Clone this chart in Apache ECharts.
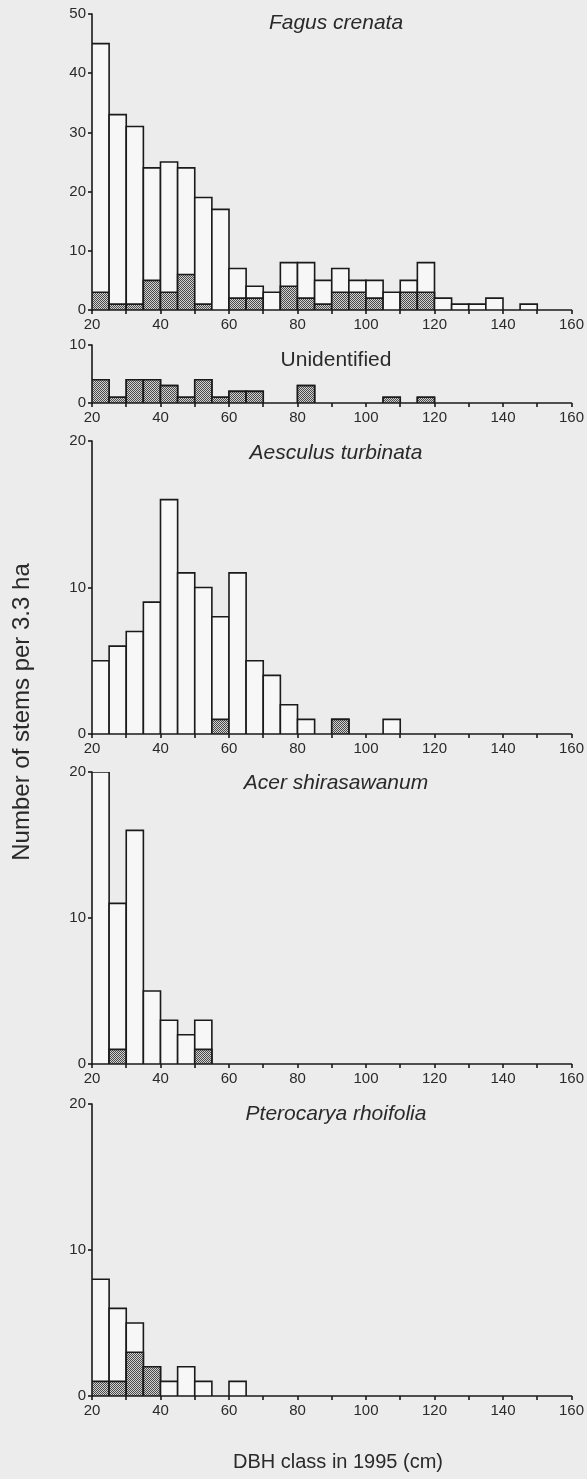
<!DOCTYPE html>
<html><head><meta charset="utf-8">
<script src="https://cdn.jsdelivr.net/npm/echarts@6/dist/echarts.min.js"></script>
<style>html,body{margin:0;padding:0;background:#ececec}#c{width:587px;height:1479px}</style>
</head><body><div id="c"></div>
<script>
// DBH class lower bounds (cm), 5-cm classes
const binStarts = [20,25,30,35,40,45,50,55,60,65,70,75,80,85,90,95,100,105,110,115,120,125,130,135,140,145,150,155];
const binWidth = 5;
const xTicks = [20,40,60,80,100,120,140,160];

// Fagus crenata
const fagusTotal = [45,33,31,24,25,24,19,17,7,4,3,8,8,5,7,5,5,3,5,8,2,1,1,2,0,1,0,0];
const fagusDead  = [3,1,1,5,3,6,1,0,2,2,0,4,2,1,3,3,2,0,3,3,0,0,0,0,0,0,0,0];
// Unidentified (all hatched)
const unidTotal  = [4,1,4,4,3,1,4,1,2,2,0,0,3,0,0,0,0,1,0,1,0,0,0,0,0,0,0,0];
const unidDead   = [4,1,4,4,3,1,4,1,2,2,0,0,3,0,0,0,0,1,0,1,0,0,0,0,0,0,0,0];
// Aesculus turbinata
const aescTotal  = [5,6,7,9,16,11,10,8,11,5,4,2,1,0,1,0,0,1,0,0,0,0,0,0,0,0,0,0];
const aescDead   = [0,0,0,0,0,0,0,1,0,0,0,0,0,0,1,0,0,0,0,0,0,0,0,0,0,0,0,0];
// Acer shirasawanum
const acerTotal  = [20,11,16,5,3,2,3,0,0,0,0,0,0,0,0,0,0,0,0,0,0,0,0,0,0,0,0,0];
const acerDead   = [0,1,0,0,0,0,1,0,0,0,0,0,0,0,0,0,0,0,0,0,0,0,0,0,0,0,0,0];
// Pterocarya rhoifolia
const pteroTotal = [8,6,5,2,1,2,1,0,1,0,0,0,0,0,0,0,0,0,0,0,0,0,0,0,0,0,0,0];
const pteroDead  = [1,1,3,2,0,0,0,0,0,0,0,0,0,0,0,0,0,0,0,0,0,0,0,0,0,0,0,0];

const panels = [
  {name:'Fagus crenata', italic:true, total:fagusTotal, dead:fagusDead, max:50, top:14, height:296, titleY:23},
  {name:'Unidentified', italic:false, total:unidTotal, dead:unidDead, max:10, top:345, height:58, titleY:360},
  {name:'Aesculus turbinata', italic:true, total:aescTotal, dead:aescDead, max:20, top:441, height:293, titleY:453},
  {name:'Acer shirasawanum', italic:true, total:acerTotal, dead:acerDead, max:20, top:772, height:292, titleY:783},
  {name:'Pterocarya rhoifolia', italic:true, total:pteroTotal, dead:pteroDead, max:20, top:1104, height:292, titleY:1114}
];

// stipple pattern for hatched bars
const pc = document.createElement('canvas');
pc.width = 2; pc.height = 2;
const pctx = pc.getContext('2d');
pctx.fillStyle = '#d2d2d2'; pctx.fillRect(0,0,2,2);
pctx.fillStyle = '#4a4a4a'; pctx.fillRect(0,0,1,1); pctx.fillRect(1,1,1,1);
const hatch = {type:'pattern', image: pc, repeat:'repeat'};

const FONT = '"Liberation Sans", Arial, Helvetica, sans-serif';
const ink = '#1a1a1a';

function renderItem(params, api) {
  const s = api.value(0), e = api.value(1), tot = api.value(2), dead = api.value(3);
  const children = [];
  if (tot > 0) {
    const a = api.coord([s, tot]), b = api.coord([e, 0]);
    children.push({type:'rect', shape:{x:a[0], y:a[1], width:b[0]-a[0], height:b[1]-a[1]},
      style:{fill:'#f7f7f7', stroke:ink, lineWidth:1.6}});
  }
  if (dead > 0) {
    const a = api.coord([s, dead]), b = api.coord([e, 0]);
    children.push({type:'rect', shape:{x:a[0], y:a[1], width:b[0]-a[0], height:b[1]-a[1]},
      style:{fill:hatch, stroke:ink, lineWidth:1.6}});
  }
  return {type:'group', children};
}

const grid = [], xAxis = [], yAxis = [], series = [], graphic = [];
panels.forEach((p, i) => {
  grid.push({left:92, right:15, top:p.top, height:p.height});
  xAxis.push({type:'value', gridIndex:i, min:20, max:160, interval:10,
    axisLine:{lineStyle:{color:ink, width:1.6}},
    axisTick:{length:4, lineStyle:{color:ink, width:1.6}},
    axisLabel:{fontFamily:FONT, fontSize:15, color:'#2a2a2a', margin:7,
      formatter: v => xTicks.indexOf(v) >= 0 ? String(v) : ''},
    splitLine:{show:false}});
  yAxis.push({type:'value', gridIndex:i, min:0, max:p.max, interval:10,
    axisLine:{show:true, lineStyle:{color:ink, width:1.6}},
    axisTick:{show:true, length:4, lineStyle:{color:ink, width:1.6}},
    axisLabel:{fontFamily:FONT, fontSize:15, color:'#2a2a2a', margin:6},
    splitLine:{show:false}});
  const data = binStarts.map((s, k) => [s, s + binWidth, p.total[k], p.dead[k]]);
  series.push({type:'custom', xAxisIndex:i, yAxisIndex:i, renderItem, data,
    encode:{x:[0,1], y:[2,3]}, silent:true, clip:true});
  graphic.push({type:'text', x:336, y:p.titleY,
    style:{text:p.name, fontFamily:FONT, fontSize:21, fontStyle:p.italic?'italic':'normal',
      fill:'#2a2a2a', align:'center', verticalAlign:'middle'}});
});

graphic.push({type:'text', x:22, y:712, rotation:Math.PI/2,
  style:{text:'Number of stems per 3.3 ha', fontFamily:FONT, fontSize:24, fill:'#2a2a2a',
    align:'center', verticalAlign:'middle'}});
graphic.push({type:'text', x:338, y:1462,
  style:{text:'DBH class in 1995 (cm)', fontFamily:FONT, fontSize:20, fill:'#2a2a2a',
    align:'center', verticalAlign:'middle'}});

const chart = echarts.init(document.getElementById('c'), null, {renderer:'canvas'});
chart.setOption({backgroundColor:'#ececec', animation:false, grid, xAxis, yAxis, series, graphic});
</script></body></html>
